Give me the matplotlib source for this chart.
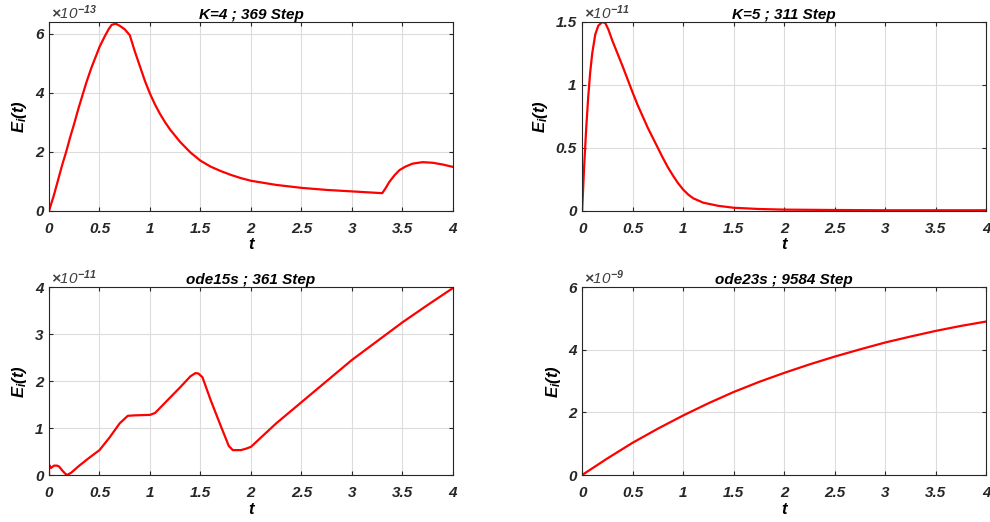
import matplotlib
matplotlib.use('Agg')
import matplotlib.pyplot as plt

plt.rcParams['font.family'] = ['Liberation Sans', 'DejaVu Sans']
plt.rcParams['mathtext.fontset'] = 'custom'
plt.rcParams['mathtext.rm'] = 'Liberation Sans:bold:italic'
plt.rcParams['mathtext.it'] = 'Liberation Sans:bold:italic'
plt.rcParams['mathtext.bf'] = 'Liberation Sans:bold:italic'

# K=4 ; 369 Step   (values in 1e-13)
t_k4 = [0, 0.05, 0.09, 0.13, 0.17, 0.21, 0.25, 0.29, 0.33, 0.37, 0.42, 0.46, 0.5, 0.55, 0.59,
        0.62, 0.66, 0.7, 0.75, 0.8, 0.85, 0.9, 0.95, 1.0, 1.05, 1.1, 1.15, 1.2, 1.3, 1.4,
        1.5, 1.6, 1.7, 1.8, 1.9, 2.0, 2.25, 2.5, 2.75, 3.0, 3.15, 3.3, 3.33, 3.37, 3.42,
        3.47, 3.53, 3.6, 3.7, 3.8, 3.9, 4.0]
e_k4 = [0, 0.55, 1.05, 1.55, 2.0, 2.5, 2.96, 3.45, 3.9, 4.35, 4.85, 5.2, 5.55, 5.9, 6.15,
        6.3, 6.34, 6.27, 6.15, 5.95, 5.4, 4.9, 4.4, 3.97, 3.6, 3.28, 3.0, 2.75, 2.33, 1.98,
        1.7, 1.5, 1.35, 1.22, 1.11, 1.02, 0.88, 0.78, 0.71, 0.66, 0.63, 0.6, 0.75, 0.98, 1.2,
        1.38, 1.5, 1.6, 1.65, 1.63, 1.57, 1.49]

# K=5 ; 311 Step   (values in 1e-11)
t_k5 = [0, 0.02, 0.04, 0.06, 0.08, 0.1, 0.13, 0.16, 0.2, 0.23, 0.26, 0.3, 0.35, 0.4, 0.45,
        0.5, 0.55, 0.6, 0.65, 0.7, 0.75, 0.8, 0.85, 0.9, 0.95, 1.0, 1.05, 1.1, 1.2, 1.35,
        1.5, 1.75, 2.0, 2.5, 3.0, 3.5, 4.0]
e_k5 = [0, 0.35, 0.65, 0.9, 1.1, 1.25, 1.4, 1.47, 1.5, 1.49, 1.44, 1.35, 1.25, 1.15, 1.045,
        0.94, 0.84, 0.75, 0.66, 0.58, 0.5, 0.42, 0.345, 0.28, 0.22, 0.17, 0.13, 0.1, 0.065, 0.04,
        0.025, 0.015, 0.01, 0.007, 0.005, 0.005, 0.005]

# ode15s ; 361 Step   (values in 1e-11)
t_15 = [0, 0.0, 0.02, 0.05, 0.08, 0.1, 0.13, 0.16, 0.18, 0.22, 0.3, 0.4, 0.5, 0.6, 0.7, 0.75,
        0.78, 0.85, 1.0, 1.05, 1.2, 1.3, 1.4, 1.45, 1.48, 1.52, 1.6, 1.7, 1.78, 1.82, 1.9,
        1.95, 2.0, 2.25, 2.5, 2.75, 3.0, 3.25, 3.5, 3.75, 4.0]
e_15 = [0, 0.22, 0.15, 0.2, 0.2, 0.18, 0.1, 0.03, 0.0, 0.05, 0.2, 0.37, 0.53, 0.8, 1.1, 1.2,
        1.26, 1.27, 1.28, 1.32, 1.65, 1.87, 2.1, 2.17, 2.16, 2.08, 1.6, 1.05, 0.62, 0.53, 0.53,
        0.56, 0.6, 1.1, 1.55, 2.0, 2.45, 2.85, 3.25, 3.62, 3.98]

# ode23s ; 9584 Step   (values in 1e-9)
t_23 = [0, 0.25, 0.5, 0.75, 1.0, 1.25, 1.5, 1.75, 2.0, 2.25, 2.5, 2.75, 3.0, 3.25, 3.5, 3.75, 4.0]
e_23 = [0, 0.53, 1.03, 1.48, 1.9, 2.29, 2.65, 2.97, 3.26, 3.53, 3.78, 4.01, 4.23, 4.42, 4.6, 4.76, 4.9]

panels = [
    (t_k4, e_k4, 'K=4 ; 369 Step', '-13', [0, 2, 4, 6], 6.4, [0.0495, 0.596, 0.408, 0.362]),
    (t_k5, e_k5, 'K=5 ; 311 Step', '-11', [0, 0.5, 1, 1.5], 1.5, [0.588, 0.596, 0.408, 0.362]),
    (t_15, e_15, 'ode15s ; 361 Step', '-11', [0, 1, 2, 3, 4], 4.0, [0.0495, 0.090, 0.408, 0.360]),
    (t_23, e_23, 'ode23s ; 9584 Step', '-9', [0, 2, 4, 6], 6.0, [0.588, 0.090, 0.408, 0.360]),
]
xticks = [0, 0.5, 1, 1.5, 2, 2.5, 3, 3.5, 4]

fig = plt.figure(figsize=(9.9, 5.22), dpi=100)
for t, e, title, expo, yt, ytop, pos in panels:
    ax = fig.add_axes(pos)
    ax.plot(t, e, color='red', lw=1.6)
    ax.set_xlim(0, 4)
    ax.set_ylim(0, ytop)
    ax.set_xticks(xticks)
    ax.set_xticklabels(['%g' % v for v in xticks])
    ax.set_yticks(yt)
    ax.set_yticklabels(['%g' % v for v in yt])
    ax.grid(True, color='#dcdcdc', lw=0.8)
    ax.set_axisbelow(True)
    ax.tick_params(direction='in', length=3, top=True, right=True, colors='#262626',
                   labelsize=11)
    ax.tick_params(axis='x', pad=8)
    ax.tick_params(axis='y', pad=4)
    for lab in ax.get_xticklabels() + ax.get_yticklabels():
        lab.set_fontweight('bold')
        lab.set_fontstyle('italic')
    for s in ax.spines.values():
        s.set_color('#262626')
        s.set_linewidth(0.8)
    ax.set_title(title, fontsize=11, fontweight='bold', fontstyle='italic', pad=2)
    ax.set_xlabel('t', fontsize=12, fontweight='bold', fontstyle='italic', labelpad=1)
    ax.set_ylabel(r'$E_i(t)$', fontsize=12, labelpad=4)
    ax.text(0.005, 1.0, r'$\times$10$^{%s}$' % expo, transform=ax.transAxes, fontsize=11,
            fontstyle='italic', color='#404040', ha='left', va='bottom')

fig.savefig('out.png', dpi=100)
